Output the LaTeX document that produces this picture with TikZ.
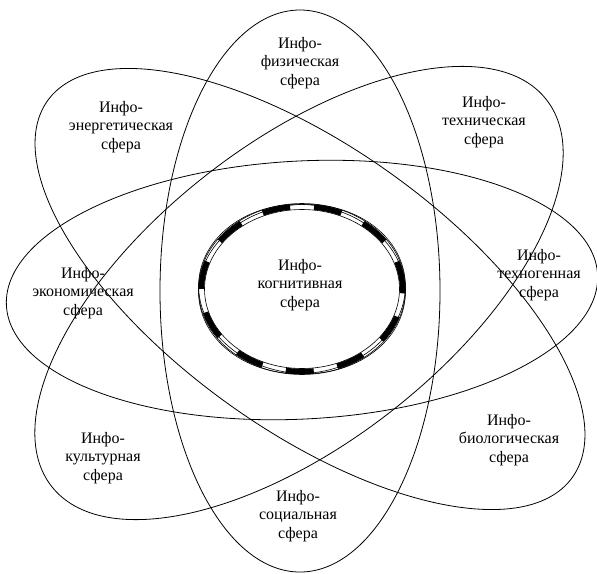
\documentclass[tikz,border=0pt]{standalone}
\usepackage{fontspec}
\setmainfont{Liberation Serif}
\begin{document}
\begin{tikzpicture}[x=1pt,y=1pt,
  orbit/.style={draw=black,line width=0.8pt},
  thinring/.style={draw=black,line width=0.6pt},
  dashring/.style={draw=black,line width=5.5pt,dash pattern=on 28pt off 24pt},
  lbl/.style={align=center,inner sep=0pt,font=\fontsize{16}{18.3}\selectfont}]
\useasboundingbox (0,0) rectangle (597,-573);
% four long ellipses
\draw[orbit] (300,-291) ellipse [x radius=140, y radius=281];
\draw[orbit,rotate around={38:(299,-293)}] (299,-293) ellipse [x radius=314, y radius=150];
\draw[orbit,rotate around={-35.7:(310,-289)}] (310,-289) ellipse [x radius=323, y radius=141];
\draw[orbit,rotate around={3:(302,-290)}] (302,-290) ellipse [x radius=296, y radius=129];
% central ring
\fill[white] (302,-289) ellipse [x radius=98, y radius=80];
\draw[thinring,rotate around={5:(302,-289)}] (302,-289) ellipse [x radius=103.5, y radius=84.5];
\draw[thinring,rotate around={-5:(302,-289)}] (302,-289) ellipse [x radius=103.5, y radius=84.5];
\draw[thinring] (302,-289) ellipse [x radius=103.5, y radius=85.5];
\draw[thinring] (302,-289) ellipse [x radius=97.5, y radius=79.5];
\draw[dashring] (302,-289) ellipse [x radius=100.5, y radius=82.5];
% labels
\node[lbl] (fiz) at (300,-63) {Инфо-\\физическая\\сфера};
\node[lbl] (ener) at (121,-127) {Инфо-\\энергетическая\\сфера};
\node[lbl] (tekh) at (484,-122) {Инфо-\\техническая\\сфера};
\node[lbl] (ekon) at (83,-293) {Инфо-\\экономическая\\сфера};
\node[lbl] (kogn) at (300,-285) {Инфо-\\когнитивная\\сфера};
\node[lbl] (tgen) at (539,-275) {Инфо-\\техногенная\\сфера};
\node[lbl] (kult) at (103,-458) {Инфо-\\культурная\\сфера};
\node[lbl] (soc) at (298,-516) {Инфо-\\социальная\\сфера};
\node[lbl] (bio) at (509,-440) {Инфо-\\биологическая\\сфера};
\end{tikzpicture}
\end{document}
